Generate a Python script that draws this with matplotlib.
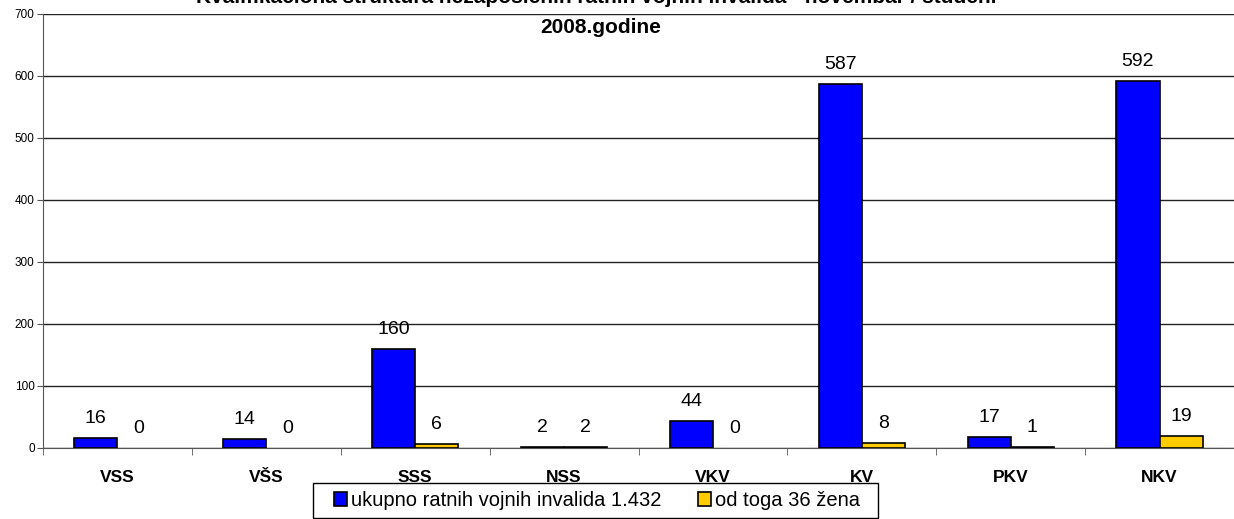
import matplotlib
matplotlib.use("Agg")
import matplotlib.pyplot as plt
from matplotlib.patches import Rectangle
import numpy as np

categories = ["VSS", "VŠS", "SSS", "NSS", "VKV", "KV", "PKV", "NKV"]
ukupno = [16, 14, 160, 2, 44, 587, 17, 592]
zene = [0, 0, 6, 2, 0, 8, 1, 19]
series_names = ["ukupno ratnih vojnih invalida 1.432", "od toga 36 žena"]
title_line1 = "Kvalifikaciona struktura nezaposlenih ratnih vojnih invalida - novembar / studeni"
title_line2 = "2008.godine"

plt.rcParams['font.family'] = ['Liberation Sans', 'DejaVu Sans']

W, H = 1234, 519
fig = plt.figure(figsize=(W/100, H/100), dpi=100)
ax = fig.add_axes([43/W, 1-448/H, 1-43/W, (448-14)/H])

x = np.arange(len(categories))
w = 0.29
b1 = ax.bar(x - w/2, ukupno, w, color="#0000FF", edgecolor="black",
            linewidth=[1.2 if v else 0 for v in ukupno], zorder=3, label=series_names[0])
b2 = ax.bar(x + w/2, zene, w, color="#FFCC00", edgecolor="black",
            linewidth=[1.2 if v else 0 for v in zene], zorder=3, label=series_names[1])

for bars, vals in ((b1, ukupno), (b2, zene)):
    for rect, v in zip(bars, vals):
        ax.annotate(str(v), (rect.get_x() + rect.get_width()/2, v), xytext=(0, 8),
                    textcoords="offset points", ha="center", va="bottom", fontsize=14)

ax.set_xlim(-0.5, len(categories) - 0.5)
ax.set_ylim(0, 700)
ax.set_yticks(range(0, 701, 100))
ax.yaxis.grid(True, color="#222222", linewidth=1.0, zorder=0)
ax.set_axisbelow(True)
ax.tick_params(axis="y", labelsize=8.5, length=4, color="#555555", pad=2)

ax.set_xticks(x)
ax.set_xticklabels(categories, fontsize=12.5, fontweight="bold")
ax.set_xticks(np.arange(len(categories) + 1) - 0.5, minor=True)
ax.tick_params(axis="x", which="major", length=0, pad=16)
ax.tick_params(axis="x", which="minor", length=5, color="#555555")

for s in ["top", "right"]:
    ax.spines[s].set_visible(False)
ax.spines["left"].set_color("#555555")
ax.spines["bottom"].set_color("#555555")

fig.text(596/W, 1 - 3/H, title_line1, ha="center", va="baseline", fontsize=15, fontweight="bold")
fig.text(601/W, 1 - 33/H, title_line2, ha="center", va="baseline", fontsize=15, fontweight="bold")

# legend frame
ax.add_patch(Rectangle((313/W, 1 - 518/H), (878-313)/W, (518-483)/H,
                       transform=fig.transFigure, facecolor="white", clip_on=False,
                       edgecolor="black", linewidth=1.0, zorder=4.9))
leg = ax.legend(loc="center", bbox_to_anchor=(597/W, 1 - 500.5/H),
                bbox_transform=fig.transFigure, ncol=2, fontsize=14.5, frameon=False,
                handlelength=0.65, handleheight=0.65, handletextpad=0.2, columnspacing=1.8,
                borderpad=0.3, borderaxespad=0)
leg.set_zorder(6)
for h in leg.legend_handles:
    h.set_linewidth(1.2)
    h.set_edgecolor("black")

fig.savefig("out.png", dpi=100)
